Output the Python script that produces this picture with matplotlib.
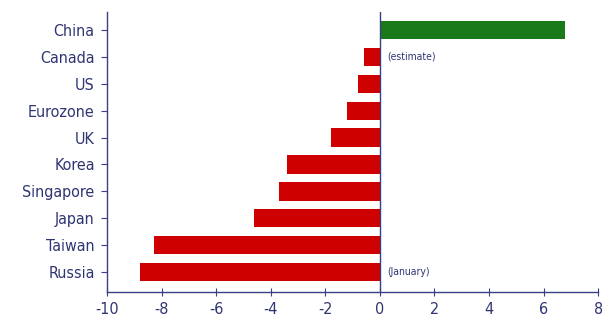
import matplotlib
matplotlib.use("Agg")
import matplotlib.pyplot as plt

countries = ["Russia", "Taiwan", "Japan", "Singapore", "Korea", "UK",
             "Eurozone", "US", "Canada", "China"]
values = [-8.8, -8.3, -4.6, -3.7, -3.4, -1.8, -1.2, -0.8, -0.6, 6.8]
notes = {"Canada": "(estimate)", "Russia": "(January)"}
xticks = [-10, -8, -6, -4, -2, 0, 2, 4, 6, 8]

plt.rcParams['font.family'] = ['DejaVu Sans']
plt.rcParams['font.stretch'] = 'condensed'
navy = "#3a3f85"
txt = "#2f3573"

fig = plt.figure(figsize=(6.16, 3.22), dpi=100)
ax = fig.add_axes([0.174, 0.093, 0.797, 0.87])

pos = list(range(len(countries)))
colors = ["#1a7a1a" if v > 0 else "#cf0000" for v in values]
ax.barh(pos, values, height=0.68, color=colors, zorder=2)
ax.axvline(0, color=navy, lw=1.0, zorder=3)

for i, c in enumerate(countries):
    if c in notes:
        ax.text(0.25, i, notes[c], va="center", ha="left", fontsize=7.5, color=txt)

ax.set_xlim(-10, 8)
ax.set_ylim(-0.74, 9.67)
ax.set_xticks(xticks)
ax.set_xticklabels([str(t) for t in xticks], fontsize=11.5, color=txt)
ax.set_yticks(pos)
ax.set_yticklabels(countries, fontsize=11.5, color=txt)

for s in ["top", "right"]:
    ax.spines[s].set_visible(False)
for s in ["left", "bottom"]:
    ax.spines[s].set_color(navy)
    ax.spines[s].set_linewidth(1.0)
ax.tick_params(axis="x", direction="inout", length=6, color=navy, pad=4)
ax.tick_params(axis="y", direction="out", length=4, color=navy, pad=5)

fig.savefig("out.png", dpi=100)
